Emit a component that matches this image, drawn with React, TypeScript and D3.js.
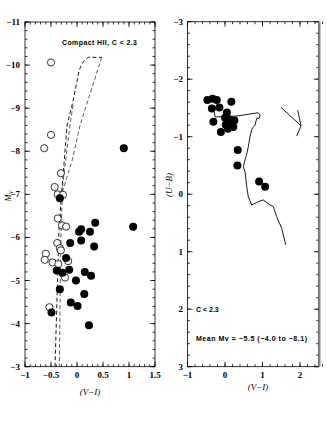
import React from "react";
import * as d3 from "d3";

// Left panel: Mv vs (V-I)
const openVI = [-0.5, -0.5, -0.63, -0.31, -0.43, -0.37, -0.27, -0.37, -0.29, -0.21, -0.38, -0.33, -0.31, -0.6, -0.62, -0.47, -0.36, -0.17, -0.23, -0.53];
const openMv = [-10.06, -8.38, -8.07, -7.49, -7.17, -7.0, -6.99, -6.44, -6.28, -6.25, -5.87, -5.75, -5.7, -5.62, -5.48, -5.42, -5.38, -5.45, -5.07, -4.38];
const fillVI = [-0.33, 0.9, 0.35, 0.08, 0.04, 0.25, 1.08, 0.08, -0.13, 0.33, -0.21, -0.39, -0.28, -0.15, 0.15, 0.27, -0.02, -0.33, 0.14, -0.12, 0.01, -0.49, 0.23];
const fillMv = [-6.91, -8.07, -6.34, -6.19, -6.13, -6.13, -6.25, -5.93, -5.87, -5.79, -5.52, -5.23, -5.18, -5.25, -5.2, -5.11, -5.0, -4.8, -4.69, -4.49, -4.41, -4.26, -3.96];

// Dashed model tracks
const trackA_VI = [-0.423, -0.385, -0.346, -0.294, -0.19, -0.071, 0.044, 0.12, 0.217, 0.475];
const trackA_Mv = [-3.0, -4.55, -6.17, -7.06, -8.61, -9.19, -9.89, -10.08, -10.18, -10.18];
const trackB_VI = [0.475, 0.06, -0.09, -0.28, -0.31, -0.34];
const trackB_Mv = [-10.18, -8.61, -7.8, -7.06, -6.0, -3.0];
const trackC_VI = [-0.077, -0.135, -0.29];
const trackC_Mv = [-9.07, -8.61, -7.06];

// Right panel: (U-B) vs (V-I)
const ubVI = [-0.47, -0.33, -0.22, -0.35, -0.15, 0.17, -0.31, 0.05, 0.0, 0.12, 0.02, 0.25, 0.08, -0.11, 0.22, 0.15, 0.34, 0.33, 0.91, 1.07];
const ubUB = [-1.64, -1.66, -1.64, -1.49, -1.51, -1.61, -1.26, -1.42, -1.33, -1.3, -1.21, -1.28, -1.14, -1.08, -1.17, -1.22, -0.77, -0.5, -0.22, -0.13];

const lineVI = [-0.285, -0.267, 0.32, 0.888, 0.933, 0.915, 0.845, 0.8, 0.74, 0.712, 0.667, 0.64, 0.621, 0.58, 0.533, 0.488, 0.533, 0.56, 0.579, 0.621, 0.712, 0.888, 1.021, 1.2, 1.288, 1.379, 1.512, 1.6, 1.619];
const lineUB = [-1.435, -1.343, -1.36, -1.417, -1.377, -1.32, -1.32, -1.2, -1.16, -1.12, -1.0, -0.9, -0.826, -0.7, -0.595, -0.478, -0.391, -0.25, -0.13, 0.043, 0.188, 0.13, 0.1, 0.188, 0.217, 0.391, 0.593, 0.826, 0.883];

const vecA_VI = [1.493, 2.027];
const vecA_UB = [-1.51, -1.19];
const vecB_VI = [1.939, 2.027, 1.912];
const vecB_UB = [-1.46, -1.19, -1.01];

const leftXTicks = [-1, -0.5, 0, 0.5, 1, 1.5];
const leftXLabels = ["−1", "−0.5", "0", "0.5", "1", "1.5"];
const leftYTicks = [-11, -10, -9, -8, -7, -6, -5, -4, -3];
const leftYLabels = ["−11", "−10", "−9", "−8", "−7", "−6", "−5", "−4", "−3"];
const rightXTicks = [-1, 0, 1, 2];
const rightXLabels = ["−1", "0", "1", "2"];
const rightYTicks = [-3, -2, -1, 0, 1, 2, 3];
const rightYLabels = ["−3", "−2", "−1", "0", "1", "2", "3"];

const tickFont = "'Liberation Serif', 'Times New Roman', serif";
const annFont = "'Liberation Sans', Arial, sans-serif";

function range(a: number, b: number, step: number) {
  const out: number[] = [];
  const n = Math.round((b - a) / step);
  for (let i = 0; i <= n; i++) out.push(a + i * step);
  return out;
}

function Frame({ x, y, minorX, minorY, xTicks, yTicks }: any) {
  const [x0, x1] = x.range();
  const [y0, y1] = y.range();
  const els: any[] = [];
  const maj = 5, mn = 2.5;
  minorX.forEach((t: number, i: number) => {
    const px = x(t);
    els.push(<line key={"mxb" + i} x1={px} x2={px} y1={y0} y2={y0 - mn} />);
    els.push(<line key={"mxt" + i} x1={px} x2={px} y1={y1} y2={y1 + mn} />);
  });
  xTicks.forEach((t: number, i: number) => {
    const px = x(t);
    els.push(<line key={"xb" + i} x1={px} x2={px} y1={y0} y2={y0 - maj} />);
    els.push(<line key={"xt" + i} x1={px} x2={px} y1={y1} y2={y1 + maj} />);
  });
  minorY.forEach((t: number, i: number) => {
    const py = y(t);
    els.push(<line key={"myl" + i} x1={x0} x2={x0 + mn} y1={py} y2={py} />);
    els.push(<line key={"myr" + i} x1={x1} x2={x1 - mn} y1={py} y2={py} />);
  });
  yTicks.forEach((t: number, i: number) => {
    const py = y(t);
    els.push(<line key={"yl" + i} x1={x0} x2={x0 + maj} y1={py} y2={py} />);
    els.push(<line key={"yr" + i} x1={x1} x2={x1 - maj} y1={py} y2={py} />);
  });
  return (
    <g stroke="#000" strokeWidth={0.8} fill="none">
      <rect x={x0} y={y1} width={x1 - x0} height={y0 - y1} />
      {els}
    </g>
  );
}

export default function App() {
  // Left panel scales
  const xL = d3.scaleLinear().domain([-1, 1.5]).range([25, 155]);
  const yL = d3.scaleLinear().domain([-3, -11]).range([366.7, 22]);
  // Right panel scales
  const xR = d3.scaleLinear().domain([-1, 2.5]).range([187.5, 318.75]);
  const yR = d3.scaleLinear().domain([3, -3]).range([366.7, 21.7]);

  const lineL = d3.line<[number, number]>().x((d) => xL(d[0])).y((d) => yL(d[1]));
  const lineR = d3.line<[number, number]>().x((d) => xR(d[0])).y((d) => yR(d[1]));
  const zip = (a: number[], b: number[]) => a.map((v, i) => [v, b[i]] as [number, number]);

  return (
    <svg width={327} height={433} style={{ position: "absolute", left: 0, top: 0, background: "#fff" }}>
      <rect x={0} y={0} width={327} height={433} fill="#fff" />
      {/* Left panel */}
      <Frame x={xL} y={yL} xTicks={leftXTicks} yTicks={leftYTicks}
        minorX={range(-1, 1.5, 0.1)} minorY={range(-11, -3, 0.2)} />
      <g fill="none" strokeDasharray="4,2.5">
        <path d={lineL(zip(trackA_VI, trackA_Mv)) || ""} stroke="#000" strokeWidth={0.9} />
        <path d={lineL(zip(trackB_VI, trackB_Mv)) || ""} stroke="#333" strokeWidth={0.8} />
        <path d={lineL(zip(trackC_VI, trackC_Mv)) || ""} stroke="#333" strokeWidth={0.8} />
      </g>
      {openVI.map((v, i) => (
        <circle key={"o" + i} cx={xL(v)} cy={yL(openMv[i])} r={3.6} fill="#fff" stroke="#000" strokeWidth={0.8} />
      ))}
      {fillVI.map((v, i) => (
        <circle key={"f" + i} cx={xL(v)} cy={yL(fillMv[i])} r={4} fill="#000" />
      ))}
      <g fontFamily={tickFont} fontSize={9} fontWeight="bold" fill="#000">
        {leftXTicks.map((t, i) => (
          <text key={"lx" + i} x={xL(t)} y={378} textAnchor="middle">{leftXLabels[i]}</text>
        ))}
        {leftYTicks.map((t, i) => (
          <text key={"ly" + i} x={20} y={yL(t) + 3} textAnchor="end">{leftYLabels[i]}</text>
        ))}
        {rightXTicks.map((t, i) => (
          <text key={"rx" + i} x={xR(t)} y={378} textAnchor="middle">{rightXLabels[i]}</text>
        ))}
        {rightYTicks.map((t, i) => (
          <text key={"ry" + i} x={183} y={yR(t) + 3} textAnchor="end">{rightYLabels[i]}</text>
        ))}
      </g>
      <text x={11} y={196} fontFamily={tickFont} fontSize={8.5} fontStyle="italic" transform="rotate(-90 11 196)" textAnchor="middle">
        M<tspan fontSize={6} dy={2}>V</tspan>
      </text>
      <text x={90} y={395} fontFamily={tickFont} fontSize={9} fontStyle="italic" textAnchor="middle">(V−I)</text>
      <text x={258} y={390} fontFamily={tickFont} fontSize={9} fontStyle="italic" textAnchor="middle">(V−I)</text>
      <text x={172} y={185} fontFamily={tickFont} fontSize={9} fontStyle="italic" transform="rotate(-90 172 185)" textAnchor="middle">(U−B)</text>
      <text x={62} y={45} fontFamily={annFont} fontSize={7} fontWeight="bold" textLength={75}>Compact HII, C &lt; 2.3</text>

      {/* Right panel */}
      <Frame x={xR} y={yR} xTicks={rightXTicks} yTicks={rightYTicks}
        minorX={range(-1, 2.5, 0.2)} minorY={range(-3, 3, 0.2)} />
      <line x1={319.5} x2={319.5} y1={21.7} y2={366.7} stroke="#888" strokeWidth={2} />
      <path d={lineR(zip(lineVI, lineUB)) || ""} fill="none" stroke="#000" strokeWidth={0.9} />
      <path d={lineR(zip(vecA_VI, vecA_UB)) || ""} fill="none" stroke="#000" strokeWidth={0.9} />
      <path d={lineR(zip(vecB_VI, vecB_UB)) || ""} fill="none" stroke="#000" strokeWidth={0.9} />
      {ubVI.map((v, i) => (
        <circle key={"r" + i} cx={xR(v)} cy={yR(ubUB[i])} r={4} fill="#000" />
      ))}
      <text x={196} y={311.5} fontFamily={annFont} fontSize={7} fontWeight="bold">C &lt; 2.3</text>
      <text x={196} y={340.5} fontFamily={annFont} fontSize={7} fontWeight="bold" textLength={111}>Mean Mv = −5.5 (−4.0 to −8.1)</text>
    </svg>
  );
}
